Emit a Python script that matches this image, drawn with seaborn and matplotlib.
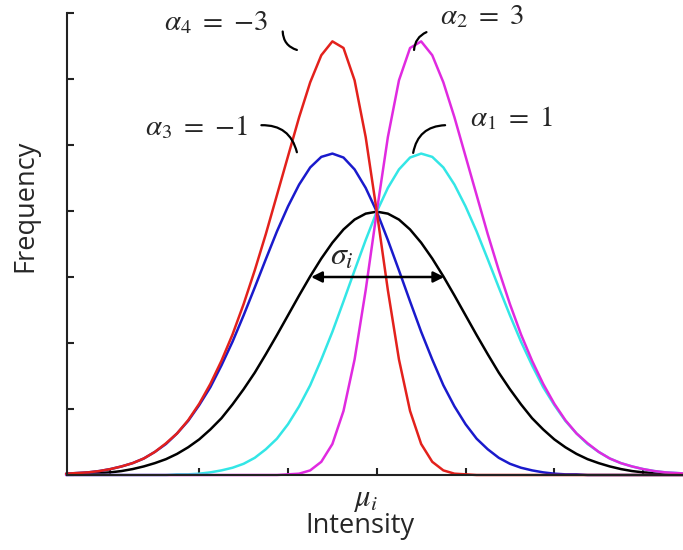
import matplotlib
matplotlib.use("Agg")
import matplotlib.pyplot as plt
import numpy as np
import pandas as pd
import seaborn as sns

# ---- data (y in axis tick units) ----
x_vals = [-3.5, -3.375, -3.25, -3.125, -3.0, -2.875, -2.75, -2.625, -2.5, -2.375,
          -2.25, -2.125, -2.0, -1.875, -1.75, -1.625, -1.5, -1.375, -1.25, -1.125,
          -1.0, -0.875, -0.75, -0.625, -0.5, -0.375, -0.25, -0.125, 0.0,
          0.125, 0.25, 0.375, 0.5, 0.625, 0.75, 0.875, 1.0, 1.125, 1.25,
          1.375, 1.5, 1.625, 1.75, 1.875, 2.0, 2.125, 2.25, 2.375, 2.5,
          2.625, 2.75, 2.875, 3.0, 3.125, 3.25, 3.375, 3.5]
normal_vals = [0.01, 0.01, 0.02, 0.03, 0.04, 0.06, 0.09, 0.13, 0.18, 0.24,
               0.32, 0.42, 0.54, 0.69, 0.86, 1.07, 1.30, 1.55, 1.83, 2.12,
               2.42, 2.72, 3.01, 3.28, 3.52, 3.72, 3.87, 3.96, 3.99,
               3.96, 3.87, 3.72, 3.52, 3.28, 3.01, 2.72, 2.42, 2.12, 1.83,
               1.55, 1.30, 1.07, 0.86, 0.69, 0.54, 0.42, 0.32, 0.24, 0.18,
               0.13, 0.09, 0.06, 0.04, 0.03, 0.02, 0.01, 0.01]
alpha1_vals = [0.00, 0.00, 0.00, 0.00, 0.00, 0.00, 0.00, 0.00, 0.00, 0.00,
               0.01, 0.01, 0.02, 0.04, 0.07, 0.11, 0.17, 0.26, 0.39, 0.55,
               0.77, 1.04, 1.36, 1.75, 2.17, 2.63, 3.10, 3.56, 3.99,
               4.35, 4.63, 4.81, 4.87, 4.82, 4.66, 4.40, 4.07, 3.69, 3.27,
               2.84, 2.42, 2.02, 1.66, 1.33, 1.06, 0.82, 0.63, 0.47, 0.35,
               0.25, 0.18, 0.13, 0.09, 0.06, 0.04, 0.03, 0.02]
alpha3_vals = [0.02, 0.03, 0.04, 0.06, 0.09, 0.13, 0.18, 0.25, 0.35, 0.47,
               0.63, 0.82, 1.06, 1.33, 1.66, 2.02, 2.42, 2.84, 3.27, 3.69,
               4.07, 4.40, 4.66, 4.82, 4.87, 4.81, 4.63, 4.35, 3.99,
               3.56, 3.10, 2.63, 2.17, 1.75, 1.36, 1.04, 0.77, 0.55, 0.39,
               0.26, 0.17, 0.11, 0.07, 0.04, 0.02, 0.01, 0.01, 0.00, 0.00,
               0.00, 0.00, 0.00, 0.00, 0.00, 0.00, 0.00, 0.00]
alpha2_vals = [0.00, 0.00, 0.00, 0.00, 0.00, 0.00, 0.00, 0.00, 0.00, 0.00,
               0.00, 0.00, 0.00, 0.00, 0.00, 0.00, 0.00, 0.00, 0.00, 0.00,
               0.01, 0.02, 0.07, 0.20, 0.47, 0.97, 1.75, 2.80, 3.99,
               5.12, 5.98, 6.47, 6.57, 6.36, 5.95, 5.42, 4.83, 4.24, 3.65,
               3.10, 2.59, 2.13, 1.73, 1.38, 1.08, 0.83, 0.63, 0.48, 0.35,
               0.25, 0.18, 0.13, 0.09, 0.06, 0.04, 0.03, 0.02]
alpha4_vals = [0.02, 0.03, 0.04, 0.06, 0.09, 0.13, 0.18, 0.25, 0.35, 0.48,
               0.63, 0.83, 1.08, 1.38, 1.73, 2.13, 2.59, 3.10, 3.65, 4.24,
               4.83, 5.42, 5.95, 6.36, 6.57, 6.47, 5.98, 5.12, 3.99,
               2.80, 1.75, 0.97, 0.47, 0.20, 0.07, 0.02, 0.01, 0.00, 0.00,
               0.00, 0.00, 0.00, 0.00, 0.00, 0.00, 0.00, 0.00, 0.00, 0.00,
               0.00, 0.00, 0.00, 0.00, 0.00, 0.00, 0.00, 0.00]

curve_names = ["normal", "alpha1", "alpha3", "alpha2", "alpha4"]
curve_colors = {"normal": "#000000", "alpha1": "#33e6e6", "alpha3": "#1a1acc",
                "alpha2": "#e02ae0", "alpha4": "#e3211c"}
y_ticks = [0, 1, 2, 3, 4, 5, 6, 7]
x_ticks = [-3, -2, -1, 0, 1, 2, 3]

series = {"normal": normal_vals, "alpha1": alpha1_vals, "alpha3": alpha3_vals,
          "alpha2": alpha2_vals, "alpha4": alpha4_vals}
df = pd.concat([pd.DataFrame({"x": x_vals, "y": v, "curve": k})
                for k, v in series.items()], ignore_index=True)

sns.set_style("white")
plt.rcParams["mathtext.fontset"] = "stix"

fig = plt.figure(figsize=(6.83, 5.5), dpi=100)
ax = fig.add_axes([67 / 683, 75 / 550, 616 / 683, 462 / 550])

sns.lineplot(data=df, x="x", y="y", hue="curve", hue_order=curve_names,
             palette=curve_colors, linewidth=1.8, legend=False,
             errorbar=None, ax=ax, clip_on=False)

ax.set_xlim(-3.49, 3.45)
ax.set_ylim(0, 7)
ax.set_xticks(x_ticks)
ax.set_yticks(y_ticks)
ax.set_xticklabels([])
ax.set_yticklabels([])
ax.tick_params(bottom=True, left=True, direction="in", length=5, width=1.5,
               color="#222222")
ax.set_xlabel("")
ax.set_ylabel("")
for s in ["top", "right"]:
    ax.spines[s].set_visible(False)
for s in ["left", "bottom"]:
    ax.spines[s].set_linewidth(1.5)
    ax.spines[s].set_color("#222222")

# axis labels
fig.text(25 / 683, 1 - 206 / 550, "Frequency", rotation=90, ha="center",
         va="center", fontsize=19.5, family="Open Sans")
fig.text(360 / 683, 1 - 533 / 550, "Intensity", ha="center", va="baseline",
         fontsize=19.5, family="Open Sans")
ax.text(-0.13, -0.37, r"$\mu_i$", ha="center", va="center", fontsize=22)

# alpha labels + leaders
lab_fs = 21
ax.text(-1.81, 6.86, r"$\alpha_4\ =\ {-3}$", ha="center", va="center", fontsize=lab_fs)
ax.text(-2.03, 5.27, r"$\alpha_3\ =\ {-1}$", ha="center", va="center", fontsize=lab_fs)
ax.text(1.19, 6.95, r"$\alpha_2\ =\ 3$", ha="center", va="center", fontsize=lab_fs)
ax.text(1.52, 5.41, r"$\alpha_1\ =\ 1$", ha="center", va="center", fontsize=lab_fs)

lead = dict(arrowstyle="-", lw=1.6, color="black", shrinkA=0, shrinkB=0)
ax.annotate("", xy=(-0.90, 6.44), xytext=(-1.06, 6.72),
            arrowprops=dict(lead, connectionstyle="arc3,rad=0.35"))
ax.annotate("", xy=(-0.90, 4.89), xytext=(-1.30, 5.30),
            arrowprops=dict(lead, connectionstyle="arc3,rad=-0.4"))
ax.annotate("", xy=(0.42, 6.44), xytext=(0.56, 6.71),
            arrowprops=dict(lead, connectionstyle="arc3,rad=0.3"))
ax.annotate("", xy=(0.41, 4.88), xytext=(0.77, 5.30),
            arrowprops=dict(lead, connectionstyle="arc3,rad=0.4"))

# sigma arrow
ax.annotate("", xy=(0.76, 3.0), xytext=(-0.74, 3.0),
            arrowprops=dict(arrowstyle="<|-|>", lw=1.8, color="black",
                            mutation_scale=16, shrinkA=0, shrinkB=0))
ax.text(-0.39, 3.32, r"$\sigma_i$", ha="center", va="center", fontsize=23)

fig.savefig("out.png", dpi=100)
